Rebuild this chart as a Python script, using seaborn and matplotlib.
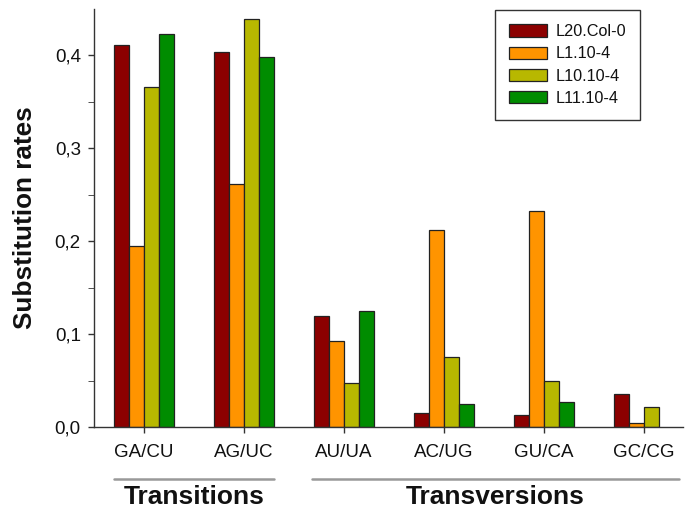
import matplotlib
matplotlib.use('Agg')
import matplotlib.pyplot as plt
import matplotlib.transforms as mtransforms
import numpy as np
import pandas as pd
import seaborn as sns

# data
substitutions = ['GA/CU', 'AG/UC', 'AU/UA', 'AC/UG', 'GU/CA', 'GC/CG']
lines = ['L20.Col-0', 'L1.10-4', 'L10.10-4', 'L11.10-4']
rate_l20 = [0.411, 0.404, 0.120, 0.015, 0.013, 0.036]
rate_l1 = [0.195, 0.262, 0.093, 0.212, 0.232, 0.004]
rate_l10 = [0.366, 0.439, 0.047, 0.075, 0.049, 0.022]
rate_l11 = [0.423, 0.398, 0.125, 0.025, 0.027, np.nan]
colors = ['#8c0000', '#ff9400', '#b8b800', '#008c00']

df = pd.DataFrame({'L20.Col-0': rate_l20, 'L1.10-4': rate_l1,
                   'L10.10-4': rate_l10, 'L11.10-4': rate_l11},
                  index=substitutions)
df_long = df.reset_index().melt(id_vars='index', var_name='line', value_name='rate')
df_long = df_long.rename(columns={'index': 'substitution'})

sns.set_style('ticks')
plt.rcParams['font.family'] = ['Liberation Sans', 'DejaVu Sans']
plt.rcParams['text.color'] = '#111111'
plt.rcParams['xtick.labelcolor'] = '#111111'
plt.rcParams['ytick.labelcolor'] = '#111111'
plt.rcParams['axes.labelcolor'] = '#111111'

fig = plt.figure(figsize=(6.86, 5.11), dpi=100)
ax = fig.add_axes([94/686, 1 - 427/511, (683-94)/686, (427-9)/511])

sns.barplot(data=df_long, x='substitution', y='rate', hue='line', order=substitutions,
            hue_order=lines, palette=colors, width=0.6, gap=0, errorbar=None,
            edgecolor='#222222', linewidth=0.9, saturation=1, ax=ax)

ax.set_xlim(-0.5, 5.39)
ax.set_ylim(0, 0.45)
ax.set_yticks([0, 0.1, 0.2, 0.3, 0.4])
ax.set_yticklabels(['0,0', '0,1', '0,2', '0,3', '0,4'])
ax.set_yticks(np.arange(0.05, 0.45, 0.1), minor=True)
ax.tick_params(axis='both', labelsize=13.5, color='#333333', width=1, length=4.5, pad=5)
ax.tick_params(axis='y', which='minor', length=4.5, color='#333333')
ax.tick_params(axis='x', length=4.5, pad=8)
sns.despine(ax=ax, top=True, right=True)
for sp in ['left', 'bottom']:
    ax.spines[sp].set_color('#333333')
    ax.spines[sp].set_linewidth(1)

ax.set_xlabel('')
ax.set_ylabel('Substitution rates', fontsize=18.8, fontweight='bold')
ax.yaxis.set_label_coords(-0.097, 0.5)

leg = ax.legend(loc='upper right', bbox_to_anchor=(0.927, 0.997), fontsize=11.7,
                frameon=True, fancybox=False, framealpha=1, edgecolor='#333333',
                handlelength=2.3, handleheight=0.78, handletextpad=0.55,
                labelspacing=0.45, borderpad=0.85, borderaxespad=0)
leg.get_frame().set_linewidth(1)

# group brackets below the axis
trans = mtransforms.blended_transform_factory(ax.transData, ax.transAxes)
ax.plot([-0.3, 1.3], [-0.124, -0.124], color='#999999', lw=1.8, transform=trans, clip_on=False)
ax.plot([1.68, 5.35], [-0.124, -0.124], color='#999999', lw=1.8, transform=trans, clip_on=False)
ax.text(0.5, -0.167, 'Transitions', transform=trans, ha='center', va='center',
        fontsize=19, fontweight='bold')
ax.text(3.515, -0.167, 'Transversions', transform=trans, ha='center', va='center',
        fontsize=19, fontweight='bold')

fig.savefig('out.png', dpi=100)
